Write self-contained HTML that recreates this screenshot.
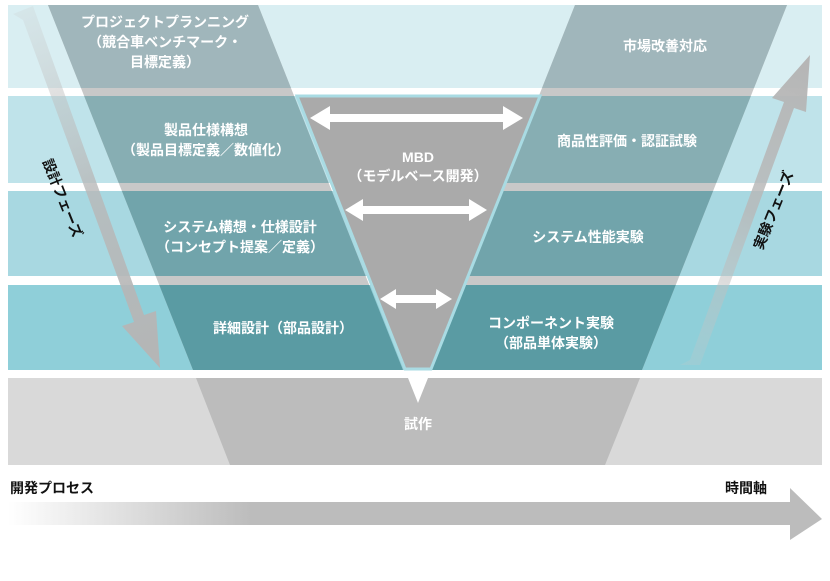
<!DOCTYPE html>
<html><head><meta charset="utf-8"><style>
html,body{margin:0;padding:0;background:#fff;}
svg{display:block;}
text{font-family:"Liberation Sans","Noto Sans CJK JP",sans-serif;font-weight:bold;}
</style></head><body>
<svg width="830" height="581" viewBox="0 0 830 581" xmlns="http://www.w3.org/2000/svg">
<defs>
<clipPath id="b1"><rect x="0" y="5" width="830" height="83"/></clipPath>
<clipPath id="b2"><rect x="0" y="96" width="830" height="87"/></clipPath>
<clipPath id="b3"><rect x="0" y="191" width="830" height="85"/></clipPath>
<clipPath id="b4"><rect x="0" y="285" width="830" height="85"/></clipPath>
<linearGradient id="ga" x1="0" y1="0" x2="1" y2="0"><stop offset="0" stop-color="#fff"/><stop offset="0.3" stop-color="#bcbcbc"/><stop offset="1" stop-color="#bcbcbc"/></linearGradient>
<linearGradient id="gl" gradientUnits="userSpaceOnUse" x1="15" y1="10" x2="160" y2="368"><stop offset="0" stop-color="#c8c8c8" stop-opacity="0.2"/><stop offset="0.5" stop-color="#b8b8b8" stop-opacity="0.8"/><stop offset="1" stop-color="#b5b5b5"/></linearGradient>
<linearGradient id="gr" gradientUnits="userSpaceOnUse" x1="685" y1="368" x2="810" y2="55"><stop offset="0" stop-color="#c8c8c8" stop-opacity="0.2"/><stop offset="0.5" stop-color="#b8b8b8" stop-opacity="0.8"/><stop offset="1" stop-color="#b5b5b5"/></linearGradient>
</defs>
<!-- bands -->
<rect x="8" y="5" width="814" height="83" fill="#d9eef2"/>
<rect x="8" y="96" width="814" height="87" fill="#bfe3ea"/>
<rect x="8" y="191" width="814" height="85" fill="#a8d8e1"/>
<rect x="8" y="285" width="814" height="85" fill="#8fcfd9"/>
<!-- parallelograms gray (gaps) -->
<polygon points="48,5 258,5 403,370 193,370" fill="#c8c8c8"/>
<polygon points="575,5 787,5 642,370 430,370" fill="#c8c8c8"/>
<g clip-path="url(#b1)"><polygon points="48,5 258,5 403,370 193,370" fill="#a0b6bb"/><polygon points="575,5 787,5 642,370 430,370" fill="#a0b6bb"/></g>
<g clip-path="url(#b2)"><polygon points="48,5 258,5 403,370 193,370" fill="#87aeb3"/><polygon points="575,5 787,5 642,370 430,370" fill="#87aeb3"/></g>
<g clip-path="url(#b3)"><polygon points="48,5 258,5 403,370 193,370" fill="#71a4ab"/><polygon points="575,5 787,5 642,370 430,370" fill="#71a4ab"/></g>
<g clip-path="url(#b4)"><polygon points="48,5 258,5 403,370 193,370" fill="#5a9ba3"/><polygon points="575,5 787,5 642,370 430,370" fill="#5a9ba3"/></g>
<!-- MBD -->
<polygon points="297,96 540,96 431,369 405,369" fill="#aaaaaa" stroke="#a9dbe3" stroke-width="3"/>
<!-- double arrows -->
<g fill="#fff">
<polygon points="310,118 330,106 330,114 503,114 503,106 523,118 503,130 503,122 330,122 330,130"/>
<polygon points="345,210 363,199 363,206 469,206 469,199 487,210 469,221 469,214 363,214 363,221"/>
<polygon points="380,299 396,289 396,295 436,295 436,289 452,299 436,309 436,303 396,303 396,309"/>
</g>
<!-- bottom gray band -->
<rect x="8" y="378" width="814" height="87" fill="#d9d9d9"/>
<polygon points="196,378 640,378 605,465 230,465" fill="#bcbcbc"/>
<polygon points="408,378 428,378 418,403" fill="#fff"/>
<!-- phase arrows -->
<polygon points="13,14 33,6 144,315 156,311 160,368 122,326 134,322 23,20" fill="url(#gl)"/>
<polygon points="680,365 700,365 794,108 806,112 810,55 772,98 784,102 690,360" fill="url(#gr)"/>
<!-- texts -->
<g fill="#fff" font-size="14" text-anchor="middle">
<text x="165" y="27">プロジェクトプランニング</text>
<text x="165" y="47">（競合車ベンチマーク・</text>
<text x="165" y="67">目標定義）</text>
<text x="206" y="135">製品仕様構想</text>
<text x="206" y="155">（製品目標定義／数値化）</text>
<text x="240" y="232">システム構想・仕様設計</text>
<text x="240" y="252">（コンセプト提案／定義）</text>
<text x="283" y="333">詳細設計（部品設計）</text>
<text x="665" y="51">市場改善対応</text>
<text x="627" y="146">商品性評価・認証試験</text>
<text x="588" y="242">システム性能実験</text>
<text x="551" y="328">コンポーネント実験</text>
<text x="551" y="348">（部品単体実験）</text>
<text x="418" y="162">MBD</text>
<text x="418" y="181">（モデルベース開発）</text>
<text x="418" y="429">試作</text>
</g>
<text x="0" y="0" font-size="14" fill="#111" text-anchor="middle" transform="translate(58,200) rotate(68)">設計フェーズ</text>
<text x="0" y="0" font-size="14" fill="#111" text-anchor="middle" transform="translate(778,212) rotate(-68)">実験フェーズ</text>
<text x="10" y="493" font-size="14" fill="#111">開発プロセス</text>
<text x="767" y="493" font-size="14" fill="#111" text-anchor="end">時間軸</text>
<polygon points="8,502 790,502 790,488 822,519 790,540 790,525 8,525" fill="url(#ga)"/>
</svg>
</body></html>
